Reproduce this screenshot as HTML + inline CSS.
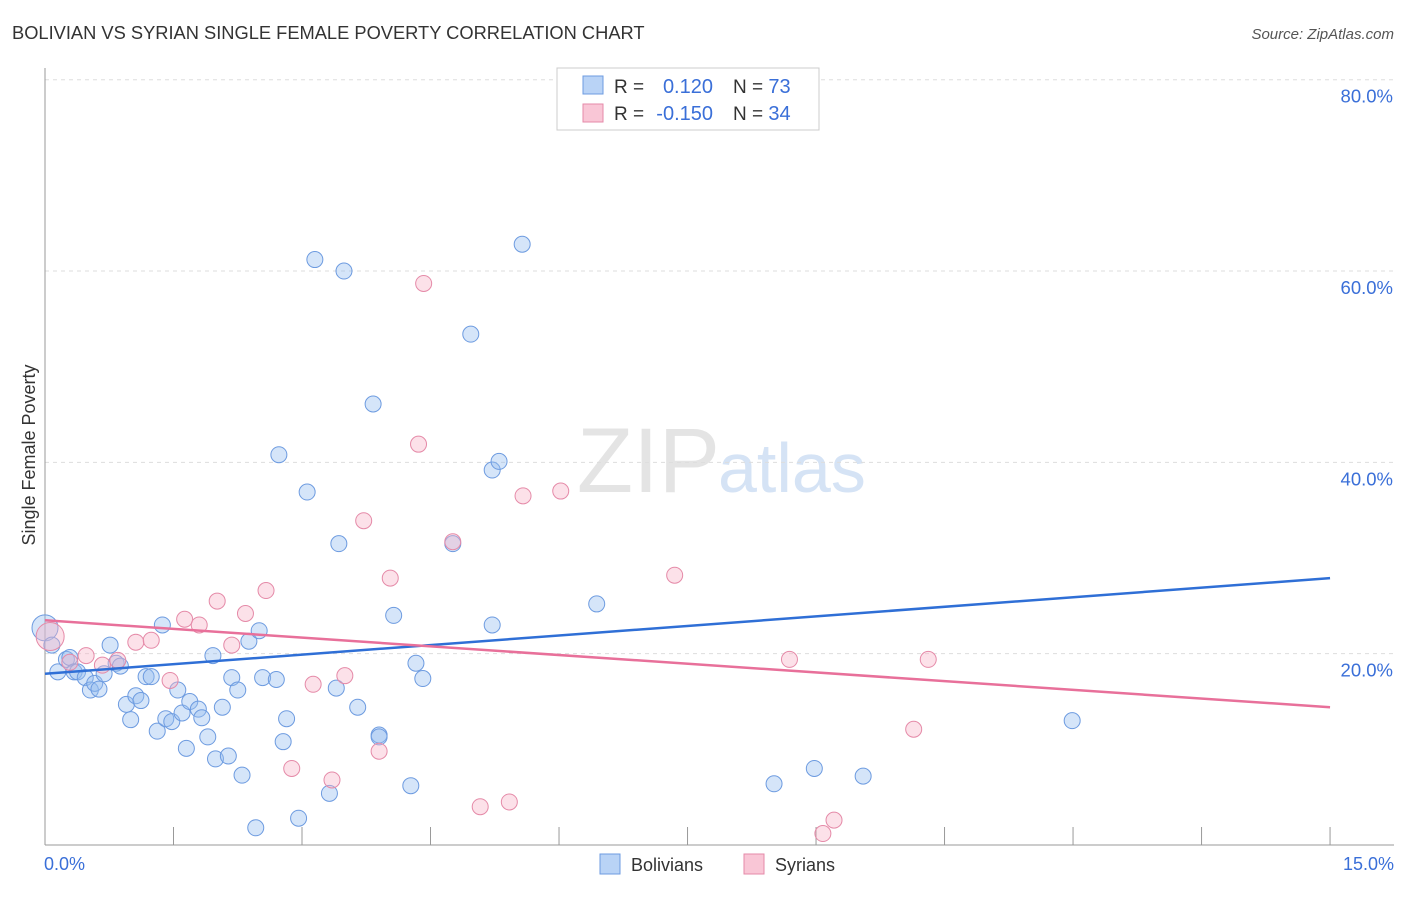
<!DOCTYPE html>
<html><head><meta charset="utf-8"><style>
body{margin:0;background:#fff;font-family:"Liberation Sans",sans-serif;}
svg text{font-family:"Liberation Sans",sans-serif;}
</style></head><body>
<svg id="c" width="1406" height="892">
<text x="12" y="39" font-size="18.3" fill="#333">BOLIVIAN VS SYRIAN SINGLE FEMALE POVERTY CORRELATION CHART</text>
<text x="1394" y="39" font-size="15" fill="#555" text-anchor="end" font-style="italic">Source: ZipAtlas.com</text>
<text x="720" y="492" font-size="92" fill="#e4e4e4" text-anchor="end" font-family="Liberation Serif">ZIP</text>
<text x="718" y="492" font-size="70" fill="#d5e3f5">atlas</text>
<g id="grid"></g>
<g id="axes"></g>
<g id="pts"></g>
<g id="lines"></g>
<text x="35" y="455" font-size="18" fill="#333" text-anchor="middle" transform="rotate(-90 35 455)">Single Female Poverty</text>
<text x="44" y="870" font-size="18" fill="#3a6fd8">0.0%</text>
<text x="1394" y="870" font-size="18" fill="#3a6fd8" text-anchor="end">15.0%</text>
<g>
<rect x="557" y="68" width="262" height="62" fill="#fff" stroke="#ccc"/>
<rect x="583" y="76" width="20" height="18" fill="#b9d3f6" stroke="#6d9be0"/>
<rect x="583" y="104" width="20" height="18" fill="#f9c6d6" stroke="#e58aa8"/>
<text x="614" y="93" font-size="19" fill="#333">R =</text>
<text x="713" y="93" font-size="20" fill="#3a6fd8" text-anchor="end">0.120</text>
<text x="733" y="93" font-size="19" fill="#333">N = <tspan fill="#3a6fd8" font-size="20">73</tspan></text>
<text x="614" y="120" font-size="19" fill="#333">R =</text>
<text x="713" y="120" font-size="20" fill="#3a6fd8" text-anchor="end">-0.150</text>
<text x="733" y="120" font-size="19" fill="#333">N = <tspan fill="#3a6fd8" font-size="20">34</tspan></text>
</g>
<g>
<rect x="600" y="854" width="20" height="20" fill="#b9d3f6" stroke="#6d9be0"/>
<text x="631" y="871" font-size="18" fill="#333">Bolivians</text>
<rect x="744" y="854" width="20" height="20" fill="#f9c6d6" stroke="#e58aa8"/>
<text x="775" y="871" font-size="18" fill="#333">Syrians</text>
</g>
</svg>
<script>
const yTicks=[20,40,60,80];
const yTickLabels=["20.0%","40.0%","60.0%","80.0%"];
const xTicks=[0,1.5,3,4.5,6,7.5,9,10.5,12,13.5,15];
const bolX=[0,0.08,0.15,0.25,0.29,0.34,0.38,0.47,0.53,0.58,0.63,0.69,0.76,0.83,0.88,0.95,1.0,1.06,1.12,1.18,1.24,1.31,1.37,1.41,1.48,1.55,1.6,1.65,1.69,1.79,1.83,1.9,1.96,1.99,2.07,2.14,2.18,2.25,2.3,2.38,2.46,2.5,2.54,2.7,2.73,2.78,2.82,2.96,3.06,3.15,3.32,3.4,3.43,3.49,3.65,3.83,3.9,3.9,4.07,4.27,4.33,4.41,4.76,4.97,5.22,5.22,5.3,5.57,6.44,8.51,8.98,9.55,11.99];
const bolY=[22.7,20.9,18.1,19.4,19.6,18.1,18.1,17.5,16.2,16.9,16.3,17.9,20.9,19.0,18.7,14.7,13.1,15.6,15.1,17.6,17.6,11.9,23.0,13.2,12.9,16.2,13.8,10.1,15.0,14.2,13.3,11.3,19.8,9.0,14.4,9.3,17.5,16.2,7.3,21.3,1.8,22.4,17.5,17.3,40.8,10.8,13.2,2.8,36.9,61.2,5.4,16.4,31.5,60.0,14.4,46.1,11.5,11.3,24.0,6.2,19.0,17.4,31.5,53.4,39.2,23.0,40.1,62.8,25.2,6.4,8.0,7.2,13.0];
const syrX=[0.06,0.29,0.48,0.67,0.85,1.06,1.24,1.46,1.63,1.8,2.01,2.18,2.34,2.58,2.88,3.13,3.35,3.5,3.72,3.9,4.03,4.36,4.42,4.76,5.08,5.42,5.58,6.02,7.35,8.69,9.08,9.21,10.14,10.31];
const syrY=[21.8,19.1,19.8,18.8,19.3,21.2,21.4,17.2,23.6,23.0,25.5,20.9,24.2,26.6,8.0,16.8,6.8,17.7,33.9,9.8,27.9,41.9,58.7,31.7,4.0,4.5,36.5,37.0,28.2,19.4,1.2,2.6,12.1,19.4];
const bolTrend=[17.9,27.9];
const syrTrend=[23.5,14.4];
const X=v=>45+v*85.67, Y=v=>845-v*9.566;
const NS="http://www.w3.org/2000/svg";
function mk(p,t,a){const e=document.createElementNS(NS,t);for(const k in a)e.setAttribute(k,a[k]);document.getElementById(p).appendChild(e);return e;}
yTicks.forEach((t,i)=>{
 const g=mk('grid','line',{x1:45,x2:1394,y1:Y(t),y2:Y(t),stroke:'#ddd','stroke-dasharray':'4,4'});
 
 
 const l=mk('grid','text',{x:1393,y:Y(t)+23,'font-size':18.5,fill:'#3a6fd8','text-anchor':'end'});
 l.textContent=yTickLabels[i];
 
 
});
const ya=mk('axes','line',{x1:45,x2:45,y1:68,y2:845,stroke:'#999'});


const xa=mk('axes','line',{x1:45,x2:1394,y1:845,y2:845,stroke:'#999'});


xTicks.forEach(t=>{const e=mk('axes','line',{x1:X(t),x2:X(t),y1:827,y2:845,stroke:'#999'});
 
 });
bolX.forEach((v,i)=>{const e=mk('pts','circle',{cx:X(v),cy:Y(bolY[i]),r:i==0?13:8,fill:'rgba(150,190,240,0.4)',stroke:'#6d9be0','stroke-width':1});
 
 });
syrX.forEach((v,i)=>{const e=mk('pts','circle',{cx:X(v),cy:Y(syrY[i]),r:i==0?14:8,fill:'rgba(248,180,200,0.4)',stroke:'#e58aa8','stroke-width':1});
 
 });
const bl=mk('lines','line',{x1:X(0),y1:Y(bolTrend[0]),x2:X(15),y2:Y(bolTrend[1]),stroke:'#2f6fd6','stroke-width':2.5});


const sl=mk('lines','line',{x1:X(0),y1:Y(syrTrend[0]),x2:X(15),y2:Y(syrTrend[1]),stroke:'#e8709a','stroke-width':2.5});


</script>
</body></html>
